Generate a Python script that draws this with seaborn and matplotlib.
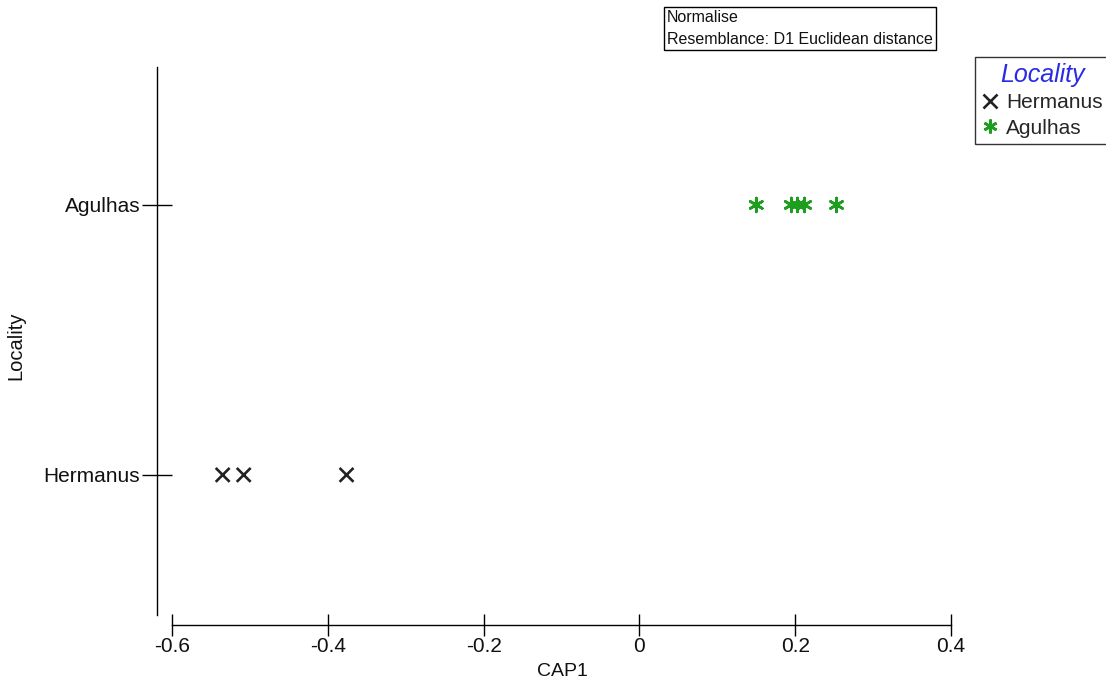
import matplotlib
matplotlib.use("Agg")
import matplotlib.pyplot as plt
import seaborn as sns
import pandas as pd

# CAP1 scores per sample, grouped by locality
hermanus_cap1 = [-0.535, -0.508, -0.376]
agulhas_cap1 = [0.150, 0.195, 0.203, 0.212, 0.253]
localities = ["Hermanus", "Agulhas"]
x_ticks = [-0.6, -0.4, -0.2, 0, 0.2, 0.4]
x_tick_labels = ["-0.6", "-0.4", "-0.2", "0", "0.2", "0.4"]

df = pd.DataFrame({
    "CAP1": hermanus_cap1 + agulhas_cap1,
    "Locality": [localities[0]] * len(hermanus_cap1) + [localities[1]] * len(agulhas_cap1),
})

sns.set_style("white")
plt.rcParams["font.family"] = ["Liberation Sans", "DejaVu Sans"]

W, H = 1106, 681
fig = plt.figure(figsize=(W / 100, H / 100), dpi=100)
# axes box in pixels: left 157, right 967, top 67, bottom 625
ax = fig.add_axes([157 / W, 1 - 625 / H, (967 - 157) / W, (625 - 67) / H])

palette = {"Hermanus": "#222222", "Agulhas": "#1e9e1e"}
markers = {"Hermanus": "x", "Agulhas": (6, 2, 0)}

sns.scatterplot(
    data=df, x="CAP1", y="Locality", hue="Locality", style="Locality",
    hue_order=localities, style_order=localities,
    palette=palette, markers=markers, s=100, linewidth=1.9, ax=ax,
)

ax.set_xlim(-0.6193, 0.4205)
ax.set_ylim(-0.556, 1.511)
ax.set_xticks(x_ticks)
ax.set_xticklabels(x_tick_labels)

for side in ["top", "right"]:
    ax.spines[side].set_visible(False)
for side in ["left", "bottom"]:
    ax.spines[side].set_color("black")
    ax.spines[side].set_linewidth(1.0)
ax.spines["bottom"].set_bounds(-0.6, 0.4)
ax.spines["left"].set_bounds(-0.519, 1.511)

ax.tick_params(axis="x", bottom=True, direction="inout", length=16, width=1,
               color="black", labelsize=15, pad=1, labelcolor="#111111")
ax.tick_params(axis="y", left=True, direction="inout", length=22, width=1,
               color="black", labelsize=15, pad=1, labelcolor="#111111")
ax.grid(False)

ax.set_xlabel("CAP1", fontsize=14, color="#111111", labelpad=5)
ax.set_ylabel("Locality", fontsize=14.5, color="#111111", labelpad=13)

handles, labels = ax.get_legend_handles_labels()
leg = ax.legend(
    handles, labels, title="Locality",
    loc="upper left", bbox_to_anchor=(975 / W, 1 - 57 / H),
    bbox_transform=fig.transFigure, borderaxespad=0,
    fontsize=15, frameon=True, fancybox=False, edgecolor="black",
    handlelength=0.8, handletextpad=0.4, borderpad=0.3, labelspacing=0.3,
    markerscale=1.0,
)
leg.get_frame().set_linewidth(1.0)
leg.get_title().set_fontsize(18)
leg.get_title().set_fontstyle("italic")
leg.get_title().set_color("#2a2ae6")

fig.text(667 / W, 1 - 10 / H, "Normalise\nResemblance: D1 Euclidean distance",
         fontsize=11.5, va="top", ha="left", color="#111111", linespacing=1.55,
         bbox=dict(boxstyle="square,pad=0.2", facecolor="white",
                   edgecolor="black", linewidth=1.0))

fig.savefig("out.png", dpi=100, facecolor="white")
